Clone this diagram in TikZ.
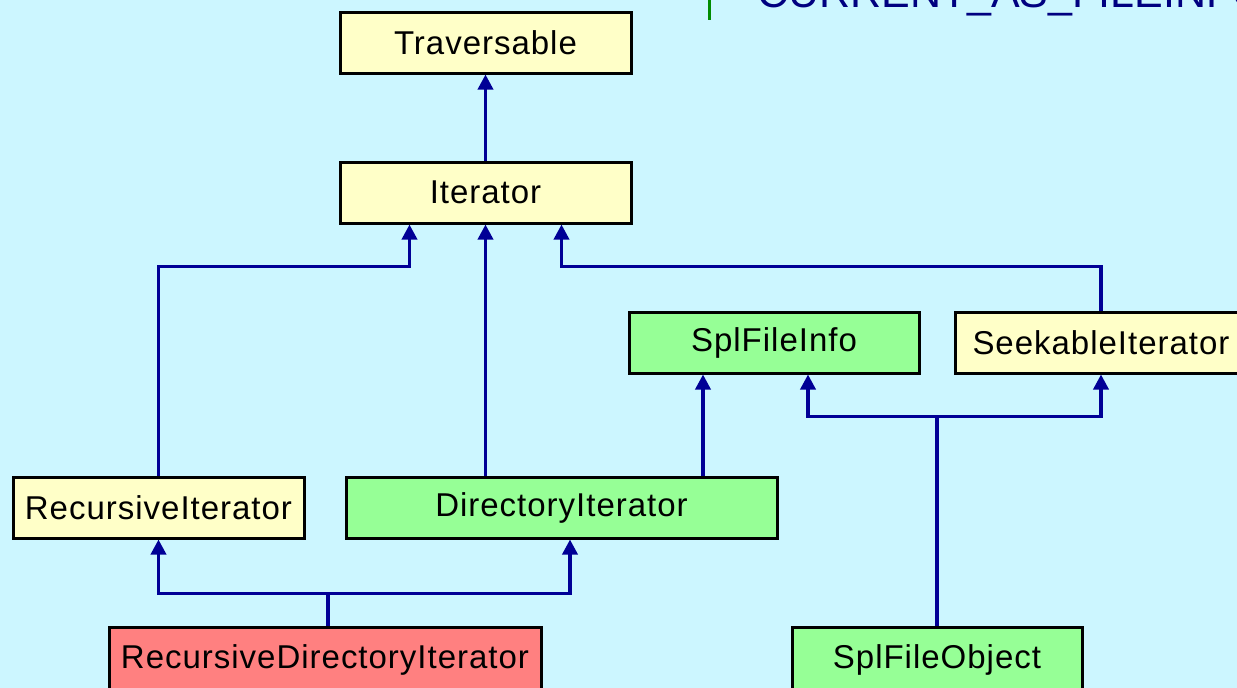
\documentclass[tikz,border=0pt]{standalone}
\usepackage{fontspec}
\setmainfont{Liberation Sans}
\newfontfamily\boxfont[LetterSpace=3]{Liberation Sans}
\usetikzlibrary{arrows.meta,calc}

\definecolor{bgcyan}{RGB}{204,246,255}
\definecolor{ifyellow}{RGB}{255,255,200}
\definecolor{clsgreen}{RGB}{150,255,150}
\definecolor{clsred}{RGB}{255,128,128}
\definecolor{linknavy}{RGB}{0,0,150}
\definecolor{textnavy}{RGB}{0,0,128}
\definecolor{markgreen}{RGB}{0,140,0}

\tikzset{
  classbox/.style={draw=black, line width=3pt, inner sep=0pt,
    minimum height=61pt, font=\boxfont\fontsize{33}{36}\selectfont},
  iface/.style={classbox, fill=ifyellow},
  concrete/.style={classbox, fill=clsgreen},
  leaf/.style={classbox, fill=clsred},
  link/.style={draw=linknavy, line width=3.5pt,
    -{Triangle[width=15pt,length=15pt]}},
}

\begin{document}
\begin{tikzpicture}[x=1pt, y=-1pt]
  \useasboundingbox (0,0) rectangle (1237,688);
  \fill[bgcyan] (0,0) rectangle (1237,688);
  \clip (0,0) rectangle (1237,688);

  % heading fragment at the top right
  \draw[markgreen, line width=3pt] (709,0) -- (709,20);
  \node[anchor=base west, inner sep=0pt, text=textnavy,
        font=\fontsize{43}{45}\selectfont] (hdr) at (757,8) {CURRENT\_AS\_FILEINFO};

  % classes and interfaces
  \node[iface, minimum width=291pt] (trav) at (485.5,42.5) {Traversable};
  \node[iface, minimum width=291pt] (it) at (485.5,192.5) {Iterator};
  \node[concrete, minimum width=290pt] (sfi) at (774,342.5) {SplFileInfo};
  \node[iface, minimum width=292pt] (si) at (1101,342.5) {SeekableIterator};
  \node[iface, minimum width=291pt] (ri) at (158.5,507.5) {RecursiveIterator};
  \node[concrete, minimum width=431pt] (di) at (561.5,507.5) {DirectoryIterator};
  \node[leaf, minimum width=432pt, minimum height=66pt] (rdi) at (325,660) {RecursiveDirectoryIterator};
  \node[concrete, minimum width=290pt, minimum height=66pt] (sfo) at (937,660) {SplFileObject};

  % inheritance connectors
  \draw[link] (it.north) -- (trav.south);
  \draw[link] (ri.north) -- ++(0,-209) -| ([xshift=-76pt]it.south);
  \draw[link] (di.north -| it.south) -- (it.south);
  \draw[link] (si.north) -- ++(0,-44) -| ([xshift=76pt]it.south);
  \draw[link] ([xshift=141.5pt]di.north) -- ([xshift=-71pt]sfi.south);
  \draw[link] (sfo.north) -- ++(0,-209) -| ([xshift=34pt]sfi.south);
  \draw[link] (sfo.north) -- ++(0,-209) -| (si.south);
  \draw[link] ([xshift=3pt]rdi.north) -- ++(0,-32) -| (ri.south);
  \draw[link] ([xshift=3pt]rdi.north) -- ++(0,-32) -| ([xshift=8.5pt]di.south);
\end{tikzpicture}
\end{document}
